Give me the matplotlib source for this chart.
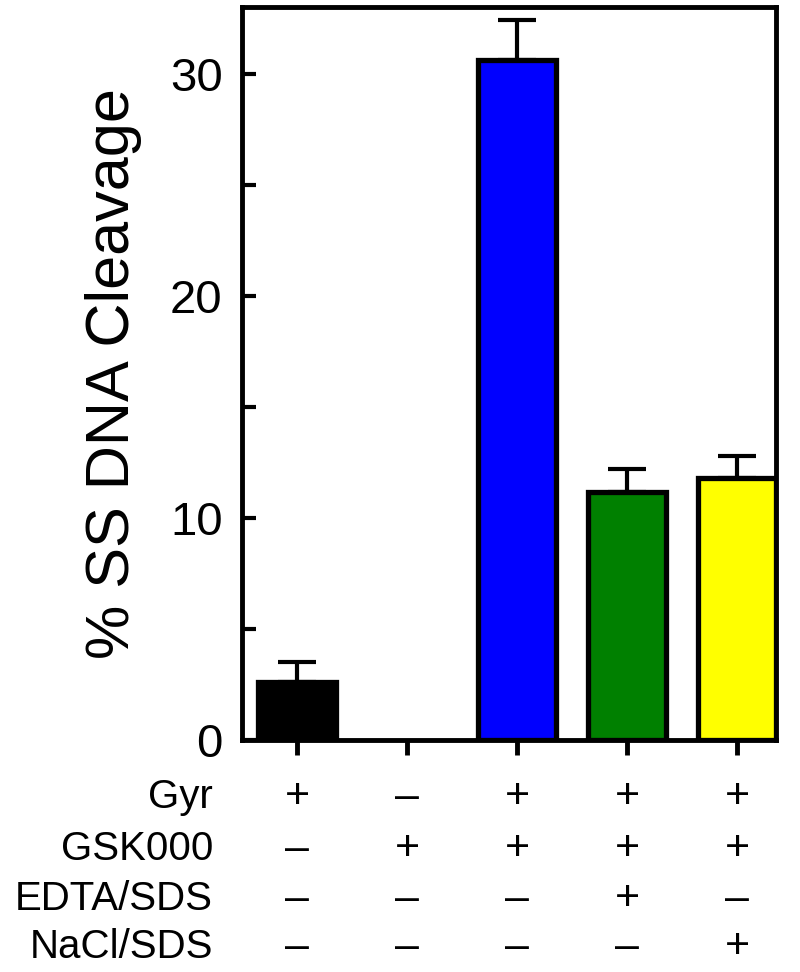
import numpy as np
import matplotlib
matplotlib.use('Agg')
import matplotlib.pyplot as plt
import matplotlib.transforms as mtransforms

plt.rcParams['font.family'] = ['Liberation Sans', 'DejaVu Sans']

# data
values = [2.6, 0.0, 30.6, 11.15, 11.8]
errors = [0.9, 0.0, 1.8, 1.05, 1.0]
colors = ['black', 'white', 'blue', 'green', 'yellow']
row_names = ['Gyr', 'GSK000', 'EDTA/SDS', 'NaCl/SDS']
conditions = [
    ['+', '–', '+', '+', '+'],
    ['–', '+', '+', '+', '+'],
    ['–', '–', '–', '+', '–'],
    ['–', '–', '–', '–', '+'],
]

fig = plt.figure(figsize=(8, 9.72), dpi=100)
ax = fig.add_axes([0.3025, 0.2387, 0.6675, 0.7541])

x = np.arange(len(values))
w = 0.71
# empty bar gets no outline so the bottom spine stays even
lws = [3.8 if v > 0 else 0 for v in values]
ax.bar(x, values, width=w, color=colors, edgecolor='black', linewidth=lws, zorder=3)

# upward-only error bars
idx = [i for i in range(len(values)) if errors[i] > 0]
ax.errorbar(x[idx], np.array(values)[idx],
            yerr=[np.zeros(len(idx)), np.array(errors)[idx]],
            fmt='none', ecolor='black', elinewidth=3, capsize=14, capthick=3, zorder=2)

ax.set_xlim(-0.5, 4 + w / 2)
ax.set_ylim(0, 33)
ax.set_yticks([0, 10, 20, 30])
ax.set_yticks([5, 15, 25], minor=True)
ax.tick_params(axis='y', which='both', direction='in', length=10, width=3,
               labelsize=34, pad=14)
ax.set_xticks(x)
ax.set_xticklabels([])
ax.tick_params(axis='x', direction='out', length=11, width=3.5)
for s in ax.spines.values():
    s.set_linewidth(3.5)

ax.set_ylabel('% SS DNA Cleavage', fontsize=44, labelpad=20)

# condition table under the axis
trans = mtransforms.blended_transform_factory(ax.transData, fig.transFigure)
row_y = [1 - 797 / 972, 1 - 849 / 972, 1 - 899 / 972, 1 - 947 / 972]
for r, name in enumerate(row_names):
    fig.text(213 / 800, row_y[r], name, ha='right', va='center', fontsize=29)
    for i in range(len(values)):
        ax.text(x[i], row_y[r], conditions[r][i], transform=trans,
                ha='center', va='center', fontsize=31)

fig.savefig('out.png', dpi=100)
